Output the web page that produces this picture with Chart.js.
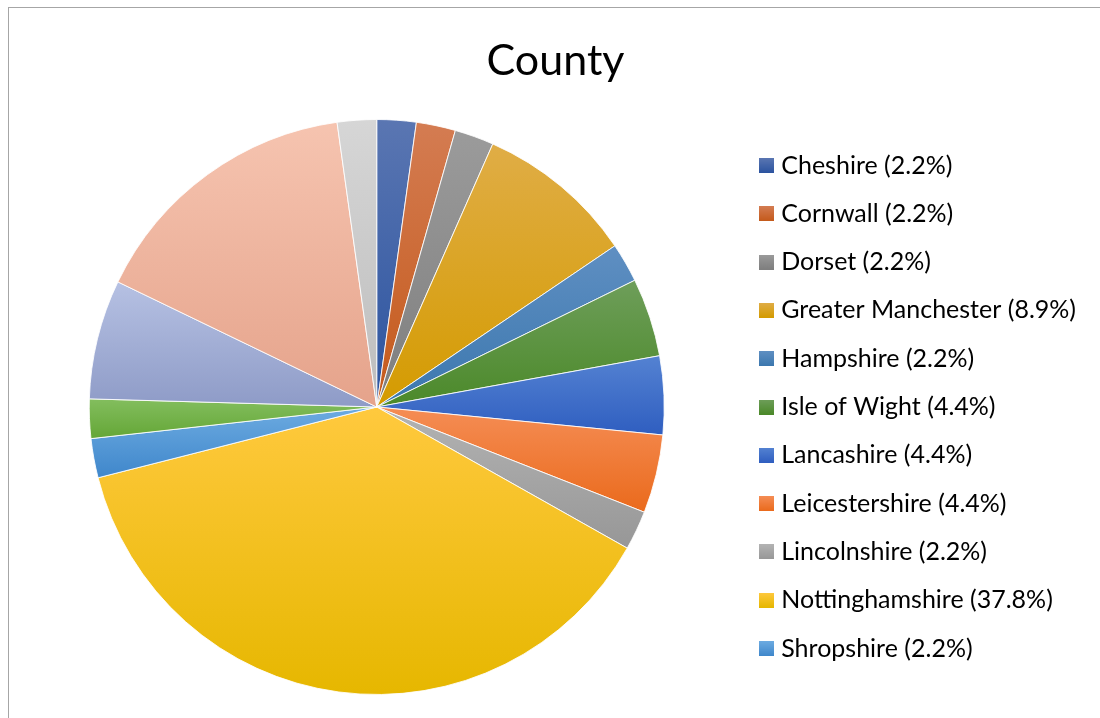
<!DOCTYPE html>
<html>
<head>
<meta charset="utf-8">
<title>County</title>
<script src="https://cdn.jsdelivr.net/npm/chart.js@4/dist/chart.umd.min.js"></script>
<style>
    html, body {
        margin: 0;
        padding: 0;
        background: #fff;
        overflow: hidden;
    }
    #frame {
        position: absolute;
        left: 8px;
        top: 7px;
        width: 1094px;
        height: 710px;
        border-left: 1px solid #a6a6a6;
        border-top: 1px solid #a6a6a6;
        background: #fff;
    }
</style>
</head>
<body>
<div id="frame"><canvas id="chart"></canvas></div>
<script>
const counties = [
    'Cheshire', 'Cornwall', 'Dorset', 'Greater Manchester', 'Hampshire',
    'Isle of Wight', 'Lancashire', 'Leicestershire', 'Lincolnshire',
    'Nottinghamshire', 'Shropshire', 'Somerset', 'South Yorkshire',
    'West Yorkshire', 'Wiltshire',
];
const shares = [2.2, 2.2, 2.2, 8.9, 2.2, 4.4, 4.4, 4.4, 2.2, 37.8, 2.2, 2.2, 6.7, 15.6, 2.2];

// only this many entries fit in the legend column
const legendShown = 11;

// each slice is shaded light at its top edge to dark at its bottom edge
const lightShades = [
    '#5a76b2', '#d47c52', '#9b9b9b', '#e0ad46', '#5f8fc2', '#6e9e5a', '#5482d2', '#f58d55',
    '#b3b3b3', '#ffc93e', '#6dabe1', '#83be5e', '#b6c1e3', '#f6c4b0', '#d6d6d6',
];
const darkShades = [
    '#2b539f', '#c4591a', '#7e7e7e', '#d49b00', '#3b77ae', '#4b8929', '#2f5ec0', '#ea6a1c',
    '#979797', '#e6b700', '#3f87cb', '#64a636', '#8e9bc7', '#e5a38b', '#bdbdbd',
];

function swatch(i) {
    const c = document.createElement('canvas');
    c.width = 15;
    c.height = 15;
    const g = c.getContext('2d');
    const grad = g.createLinearGradient(0, 0, 0, 15);
    grad.addColorStop(0, lightShades[i]);
    grad.addColorStop(1, darkShades[i]);
    g.fillStyle = grad;
    g.fillRect(0, 0, 15, 15);
    return c;
}

function arcGradient(ctx, arc, i) {
    const {x, y, startAngle, endAngle, outerRadius} = arc;
    const covers = (a) => {
        let t = a;
        while (t < startAngle) t += Math.PI * 2;
        return t <= endAngle;
    };
    const ys = [y, y + outerRadius * Math.sin(startAngle), y + outerRadius * Math.sin(endAngle)];
    let top = Math.min(...ys);
    let bottom = Math.max(...ys);
    if (covers(-Math.PI / 2)) top = y - outerRadius;
    if (covers(Math.PI / 2)) bottom = y + outerRadius;
    const grad = ctx.createLinearGradient(0, top, 0, bottom + 0.01);
    grad.addColorStop(0, lightShades[i]);
    grad.addColorStop(1, darkShades[i]);
    return grad;
}

const sliceShading = {
    id: 'sliceShading',
    beforeDatasetDraw(chart, args) {
        args.meta.data.forEach((arc, i) => {
            arc.options = Object.assign({}, arc.options, {
                backgroundColor: arcGradient(chart.ctx, arc, i),
            });
        });
    },
};

// leave some empty room to the right of the legend column
const legendGutter = {
    id: 'legendGutter',
    beforeLayout(chart, args, opts) {
        const legend = chart.legend;
        if (!legend || legend.$gutter) return;
        const fit = legend.fit.bind(legend);
        legend.fit = () => {
            fit();
            legend.width += opts.width;
        };
        legend.$gutter = true;
    },
};

new Chart(document.getElementById('chart'), {
    type: 'pie',
    data: {
        labels: counties,
        datasets: [{
            data: shares,
            backgroundColor: darkShades,
            borderColor: 'rgba(255,255,255,0.85)',
            borderWidth: 1,
        }],
    },
    options: {
        responsive: true,
        maintainAspectRatio: false,
        animation: false,
        layout: {
            padding: { left: 4, right: 5, top: 0, bottom: 23 },
        },
        plugins: {
            title: {
                display: true,
                text: 'County',
                color: '#000',
                font: { family: 'Lato', size: 43, weight: 'normal' },
                padding: { top: 27, bottom: 32.4 },
            },
            legend: {
                position: 'right',
                fullSize: false,
                labels: {
                    color: '#000',
                    font: { family: 'Lato', size: 25 },
                    padding: 23.3,
                    usePointStyle: true,
                    pointStyleWidth: 5,
                    generateLabels: () => counties.map((name, i) => ({
                        text: `${name} (${shares[i].toFixed(1)}%)`,
                        fillStyle: darkShades[i],
                        strokeStyle: darkShades[i],
                        lineWidth: 0,
                        pointStyle: swatch(i),
                        hidden: false,
                        index: i,
                    })),
                    filter: (item) => item.index < legendShown,
                },
            },
            legendGutter: { width: 12 },
            tooltip: { enabled: false },
        },
    },
    plugins: [sliceShading, legendGutter],
});
</script>
</body>
</html>
